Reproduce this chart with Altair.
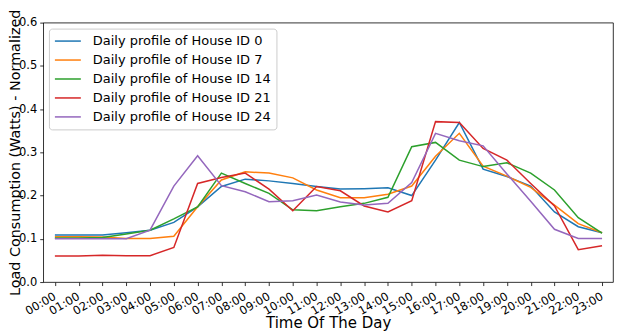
import altair as alt
import pandas as pd

hours = list(range(24))

series_names = [
    "Daily profile of House ID 0",
    "Daily profile of House ID 7",
    "Daily profile of House ID 14",
    "Daily profile of House ID 21",
    "Daily profile of House ID 24",
]
colors = ["#1f77b4", "#ff7f0e", "#2ca02c", "#d62728", "#9467bd"]

house0 = [0.109, 0.109, 0.109, 0.114, 0.120, 0.138, 0.174, 0.221, 0.238, 0.234, 0.228, 0.221,
          0.215, 0.216, 0.218, 0.200, 0.282, 0.369, 0.261, 0.244, 0.222, 0.162, 0.128, 0.114]
house7 = [0.105, 0.105, 0.104, 0.101, 0.101, 0.106, 0.174, 0.236, 0.255, 0.252, 0.241, 0.213,
          0.195, 0.195, 0.203, 0.222, 0.291, 0.344, 0.268, 0.245, 0.219, 0.178, 0.135, 0.114]
house14 = [0.102, 0.102, 0.103, 0.111, 0.120, 0.146, 0.174, 0.252, 0.228, 0.205, 0.167, 0.165,
           0.174, 0.182, 0.196, 0.313, 0.323, 0.282, 0.267, 0.276, 0.252, 0.213, 0.149, 0.113]
house21 = [0.060, 0.060, 0.062, 0.061, 0.061, 0.080, 0.228, 0.242, 0.252, 0.215, 0.165, 0.221,
           0.211, 0.176, 0.162, 0.188, 0.371, 0.369, 0.309, 0.282, 0.228, 0.176, 0.075, 0.084]
house24 = [0.100, 0.100, 0.100, 0.100, 0.120, 0.222, 0.292, 0.223, 0.209, 0.186, 0.188, 0.201,
           0.185, 0.178, 0.182, 0.230, 0.344, 0.327, 0.315, 0.250, 0.187, 0.122, 0.101, 0.101]

y_ticks = [0.0, 0.1, 0.2, 0.3, 0.4, 0.5, 0.6]

all_series = [house0, house7, house14, house21, house24]
rows = []
for name, vals in zip(series_names, all_series):
    for h, v in zip(hours, vals):
        rows.append({"hour": h, "value": v, "series": name})
df = pd.DataFrame(rows)

FONT = "DejaVu Sans"

chart = alt.Chart(df).mark_line(strokeWidth=1.5).encode(
    x=alt.X(
        "hour:Q",
        scale=alt.Scale(domain=[-0.49, 23.46], nice=False, zero=False),
        axis=alt.Axis(
            values=hours,
            labelExpr="(datum.value < 10 ? '0' : '') + datum.value + ':00'",
            labelAngle=-30,
            labelAlign="right",
            labelBaseline="middle",
            labelPadding=10,
            labelOverlap=False,
            labelBound=False,
            labelFontSize=11.5,
            title="Time Of The Day",
            titleFontSize=15,
            titleFontWeight="normal",
            titleBaseline="alphabetic",
            titleY=46,
        ),
    ),
    y=alt.Y(
        "value:Q",
        scale=alt.Scale(domain=[0, 0.6], nice=False),
        axis=alt.Axis(
            values=y_ticks,
            format=".1f",
            labelFontSize=11.5,
            labelPadding=3,
            title="Load Consumption (Watts) - Normalized",
            titleFontSize=14.4,
            titleFontWeight="normal",
            titleX=-20.5,
        ),
    ),
    color=alt.Color(
        "series:N",
        scale=alt.Scale(domain=series_names, range=colors),
        legend=alt.Legend(
            title=None,
            orient="none",
            legendX=5.7,
            legendY=6,
            symbolType="M-1,0H3",
            symbolSize=169,
            symbolStrokeWidth=1.5,
            labelFontSize=13,
            labelOffset=24,
            labelLimit=0,
            rowPadding=4,
            padding=5,
            strokeColor="#cccccc",
            fillColor="rgba(255,255,255,0.8)",
            cornerRadius=3,
        ),
    ),
    order=alt.Order("hour:Q"),
).properties(
    width=571,
    height=260,
    autosize=alt.AutoSizeParams(type="none"),
    padding={"left": 35.3, "top": 14.3, "right": 2, "bottom": 51},
).configure(
    font=FONT,
).configure_view(
    stroke="black",
    strokeWidth=0.8,
).configure_axis(
    domain=False,
    grid=False,
    ticks=True,
    tickColor="black",
    tickWidth=0.8,
    tickSize=3.5,
    labelColor="black",
    titleColor="black",
    labelFont=FONT,
    titleFont=FONT,
).configure_legend(
    labelFont=FONT,
    labelColor="black",
)

chart.save("out.html", embed_options={"renderer": "svg", "actions": False})
